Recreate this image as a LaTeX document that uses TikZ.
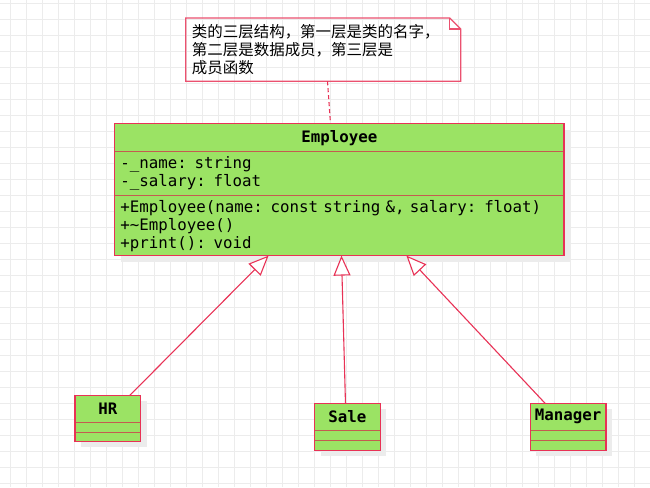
\documentclass[tikz,border=0pt]{standalone}
\usepackage{fontspec}
\setmonofont{DejaVu Sans Mono}[WordSpace={1,0,0}]
\newfontfamily\cjk{Noto Sans CJK SC}
\usetikzlibrary{arrows.meta,positioning,backgrounds}
\definecolor{umlgreen}{RGB}{155,227,100}
\definecolor{umlred}{RGB}{232,50,86}
\definecolor{umlsep}{RGB}{196,92,80}
\definecolor{gridgray}{RGB}{236,236,236}
\definecolor{shadowgray}{RGB}{236,236,236}
\tikzset{
	gridline/.style={draw=gridgray,line width=1bp},
	cls/.style={fill=umlgreen,inner sep=0pt,outer sep=0pt},
	title/.style={cls,font=\fontsize{15.8bp}{18bp}\selectfont\ttfamily\bfseries},
	body/.style={cls,inner xsep=5.5bp,align=left,font=\fontsize{15.8bp}{18bp}\selectfont\ttfamily},
	comp/.style={cls},
	clsframe/.style={draw=umlred,line width=1.3bp},
	sepline/.style={draw=umlsep,line width=1.3bp},
	shadowbox/.style={fill=shadowgray},
	note/.style={anchor=north west,inner xsep=6bp,inner ysep=0pt,align=left,
		font=\cjk\fontsize{15.5bp}{18bp}\selectfont},
	notebox/.style={draw=umlred!85,line width=1.3bp},
	notelink/.style={draw=umlred,line width=1.1bp,dash pattern=on 4bp off 3bp},
	inherit/.style={draw=umlred,line width=1.1bp,
		-{Triangle[length=20bp,width=17bp,fill=white]}}
}
\begin{document}
\begin{tikzpicture}[x=1bp,y=-1bp]
	\begin{pgfonlayer}{background}
	\fill[white] (0,0) rectangle (650,487);
	% background grid
	\foreach \gx in {10.5,26.5,...,650} \draw[gridline] (\gx,0) -- (\gx,487);
	\foreach \gy in {3.5,19.5,...,487} \draw[gridline] (0,\gy) -- (650,\gy);
	\end{pgfonlayer}
	\useasboundingbox (0,0) rectangle (650,487);

	% note
	\node[note,text width=263bp,minimum height=63bp] (nt) at (185.5,17.5)
		{类的三层结构，第一层是类的名字，\\第二层是数据成员，第三层是\\成员函数};
	\draw[notebox] (nt.north west) -- ([xshift=-11bp]nt.north east)
		-- ([yshift=-11bp]nt.north east) -- (nt.south east) -- (nt.south west) -- cycle;
	\draw[notebox] ([xshift=-11bp]nt.north east) |- ([yshift=-11bp]nt.north east);

	% Employee
	\node[title,minimum width=450bp,minimum height=28bp,anchor=north west] (emp) at (114.5,123.5) {Employee};
	\node[body,text width=439bp,minimum height=44bp,below=0pt of emp] (empattr)
		{-\_name: string\\-\_salary: float};
	\node[body,text width=439bp,minimum height=60bp,below=0pt of empattr] (empops)
		{+Employee(name: const string \&, salary: float)\\+\textasciitilde Employee()\\+print(): void};
	\draw[sepline] (emp.south west) -- (emp.south east);
	\draw[sepline] (empattr.south west) -- (empattr.south east);
	\draw[clsframe] (emp.north west) rectangle (empops.south east);

	% HR
	\node[title,minimum width=66bp,minimum height=27bp,anchor=north west] (hr) at (74.5,395.5) {HR};
	\node[comp,minimum width=66bp,minimum height=10bp,below=0pt of hr] (hrattr) {};
	\node[comp,minimum width=66bp,minimum height=9bp,below=0pt of hrattr] (hrops) {};
	\draw[sepline] (hr.south west) -- (hr.south east);
	\draw[sepline] (hrattr.south west) -- (hrattr.south east);
	\draw[clsframe] (hr.north west) rectangle (hrops.south east);

	% Sale
	\node[title,minimum width=66bp,minimum height=27bp,anchor=north west] (sale) at (314.5,403.5) {Sale};
	\node[comp,minimum width=66bp,minimum height=10bp,below=0pt of sale] (saleattr) {};
	\node[comp,minimum width=66bp,minimum height=10bp,below=0pt of saleattr] (saleops) {};
	\draw[sepline] (sale.south west) -- (sale.south east);
	\draw[sepline] (saleattr.south west) -- (saleattr.south east);
	\draw[clsframe] (sale.north west) rectangle (saleops.south east);

	% Manager
	\node[title,minimum width=76bp,minimum height=27bp,anchor=north west] (mgr) at (530.5,403.5) {Manager};
	\node[comp,minimum width=76bp,minimum height=10bp,below=0pt of mgr] (mgrattr) {};
	\node[comp,minimum width=76bp,minimum height=10bp,below=0pt of mgrattr] (mgrops) {};
	\draw[sepline] (mgr.south west) -- (mgr.south east);
	\draw[sepline] (mgrattr.south west) -- (mgrattr.south east);
	\draw[clsframe] (mgr.north west) rectangle (mgrops.south east);

	% shadows
	\begin{pgfonlayer}{background}
	\fill[shadowbox] ([shift={(6bp,-6bp)}]emp.north west) rectangle ([shift={(6bp,-6bp)}]empops.south east);
	\fill[shadowbox] ([shift={(6bp,-6bp)}]hr.north west) rectangle ([shift={(6bp,-6bp)}]hrops.south east);
	\fill[shadowbox] ([shift={(6bp,-6bp)}]sale.north west) rectangle ([shift={(6bp,-6bp)}]saleops.south east);
	\fill[shadowbox] ([shift={(6bp,-6bp)}]mgr.north west) rectangle ([shift={(6bp,-6bp)}]mgrops.south east);
	\end{pgfonlayer}

	% links
	\draw[notelink] ([xshift=142bp]nt.south west) -- ([xshift=216bp]emp.north west);
	\draw[inherit] ([xshift=-11bp]hr.north east) -- ([xshift=154bp]empops.south west);
	\draw[inherit] ([xshift=31bp]sale.north west) -- ([xshift=227bp]empops.south west);
	\draw[inherit] ([xshift=15bp]mgr.north west) -- ([xshift=292bp]empops.south west);
\end{tikzpicture}
\end{document}
